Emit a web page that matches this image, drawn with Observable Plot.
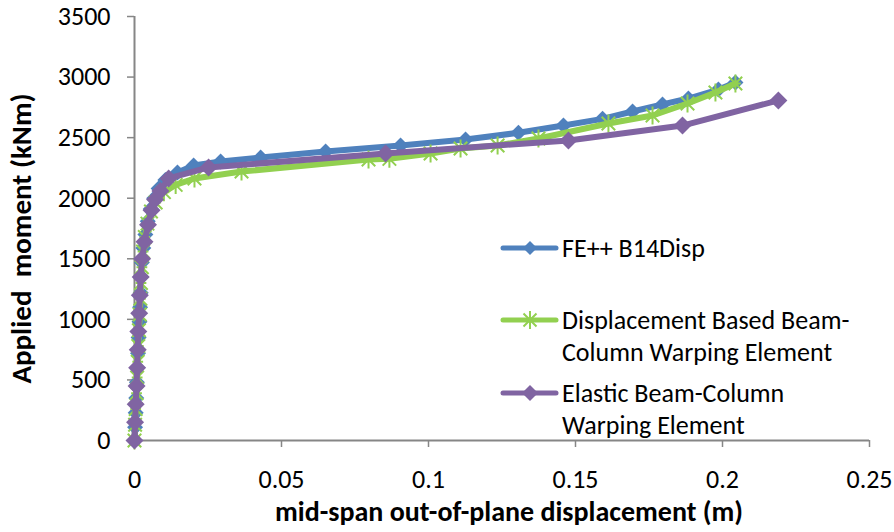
<!DOCTYPE html>
<html><head><meta charset="utf-8">
<script src="https://cdn.jsdelivr.net/npm/d3@7"></script>
<script src="https://cdn.jsdelivr.net/npm/@observablehq/plot@0.6"></script>
<style>
body{margin:0;background:#fff;}
#wrap{position:relative;width:894px;height:532px;font-family:Carlito,Calibri,Lato,sans-serif;}
.legtxt{position:absolute;font-size:26px;line-height:32px;color:#000;white-space:nowrap;}
.legsym{position:absolute;}
</style></head><body><div id="wrap"></div>
<script>
const seriesNames = ["FE++ B14Disp", "Displacement Based Beam-\nColumn Warping Element", "Elastic Beam-Column\nWarping Element"];
const seriesColors = ["#4F81BD", "#92D050", "#8064A2"];
const xTicks = [0, 0.05, 0.1, 0.15, 0.2, 0.25];
const yTicks = [0, 500, 1000, 1500, 2000, 2500, 3000, 3500];

const blueX = [0,0.0002,0.0004,0.0006,0.0008,0.0010,0.0012,0.0014,0.0017,0.0019,0.0021,0.0023,0.0025,0.0030,0.0037,0.0045,0.0055,0.0067,0.0082,0.0105,0.0146,0.0201,0.0293,0.0429,0.0650,0.0905,0.1126,0.1306,0.1459,0.1592,0.1694,0.1796,0.1884,0.1986,0.2044];
const blueM = [0,110,230,350,480,600,720,850,980,1100,1220,1350,1470,1590,1700,1810,1910,2000,2080,2150,2212,2270,2303,2336,2386,2435,2485,2540,2600,2655,2716,2774,2823,2897,2955];

const greenX = [0,0.0002,0.0004,0.0007,0.0009,0.0011,0.0013,0.0015,0.0018,0.0020,0.0022,0.0025,0.0029,0.0035,0.0044,0.0056,0.0072,0.0100,0.0140,0.0204,0.0364,0.0796,0.0867,0.1007,0.1109,0.1235,0.1374,0.1612,0.1762,0.1881,0.1976,0.2044];
const greenM = [0,130,260,390,520,650,780,910,1040,1170,1300,1430,1560,1680,1790,1890,1965,2050,2110,2163,2220,2320,2325,2369,2410,2435,2493,2617,2683,2782,2873,2947];

const purpleX = [0,0.0002,0.0004,0.0007,0.0009,0.0011,0.0013,0.0016,0.0018,0.0021,0.0026,0.0034,0.0046,0.0058,0.0070,0.0088,0.0116,0.0252,0.0854,0.1476,0.1864,0.2190];
const purpleM = [0,150,300,450,600,750,900,1050,1200,1350,1500,1640,1780,1900,1990,2060,2163,2254,2369,2477,2600,2807];

const toRows = (xs, ms) => xs.map((x, i) => ({x, m: ms[i]}));
const blue = toRows(blueX, blueM), green = toRows(greenX, greenM), purple = toRows(purpleX, purpleM);

const diamond = {draw(ctx, size) { const r = Math.sqrt(size / Math.PI); ctx.moveTo(0, -r); ctx.lineTo(r, 0); ctx.lineTo(0, r); ctx.lineTo(-r, 0); ctx.closePath(); }};
const asterisk = {draw(ctx, size) { const r = Math.sqrt(size / Math.PI); const d = r * 0.75;
  ctx.moveTo(0, -r); ctx.lineTo(0, r); ctx.moveTo(-d, -d); ctx.lineTo(d, d); ctx.moveTo(-d, d); ctx.lineTo(d, -d); ctx.moveTo(-r*0.6, 0); ctx.lineTo(r*0.6, 0); }};

const gray = "#868686";
const font = "Carlito, Calibri, Lato, sans-serif";
const chart = Plot.plot({
  width: 894, height: 532,
  marginLeft: 134, marginRight: 25, marginTop: 16, marginBottom: 92,
  style: {fontFamily: font, fontSize: "26px", color: "#000", background: "#fff"},
  x: {domain: [0, 0.25]},
  y: {domain: [0, 3500]},
  marks: [
    Plot.ruleX([0], {stroke: gray, strokeWidth: 2}),
    Plot.ruleY([0], {stroke: gray, strokeWidth: 2}),
    Plot.axisX({ticks: xTicks, tickSize: 7, tickPadding: 22, stroke: gray, strokeWidth: 1.5, fill: "#000", tickFormat: d => String(d),
      label: "mid-span out-of-plane displacement (m)", labelArrow: "none", labelAnchor: "center", labelOffset: 80}),
    Plot.axisY({ticks: yTicks, tickSize: 7, tickPadding: 17, stroke: gray, strokeWidth: 1.5, fill: "#000", tickFormat: d => String(d),
      label: "Applied  moment (kNm)", labelArrow: "none", labelAnchor: "center", labelOffset: 124}),
    Plot.line(blue, {x: "x", y: "m", stroke: seriesColors[0], strokeWidth: 6}),
    Plot.dot(blue, {x: "x", y: "m", symbol: diamond, r: 8, fill: seriesColors[0], stroke: "none"}),
    Plot.line(green, {x: "x", y: "m", stroke: seriesColors[1], strokeWidth: 6}),
    Plot.dot(green, {x: "x", y: "m", symbol: asterisk, r: 9, fill: "none", stroke: seriesColors[1], strokeWidth: 2}),
    Plot.line(purple, {x: "x", y: "m", stroke: seriesColors[2], strokeWidth: 6}),
    Plot.dot(purple, {x: "x", y: "m", symbol: diamond, r: 9, fill: seriesColors[2], stroke: "none"})
  ]
});
const wrap = document.getElementById("wrap");
wrap.appendChild(chart);
chart.querySelectorAll("g[aria-label='x-axis label'] text").forEach(t => {
  t.style.fontWeight = "bold"; t.style.fontSize = "28px"; t.setAttribute("dx", "7");
});
chart.querySelectorAll("g[aria-label='y-axis label'] text").forEach(t => {
  t.style.fontWeight = "bold"; t.style.fontSize = "29px"; t.style.whiteSpace = "pre"; t.setAttribute("dx", "-10");
});

// legend overlay
const legTop = [248, 320, 393];
const symPaths = [
  `<path d="M30,3L37,10L30,17L23,10Z" fill="${seriesColors[0]}"/>`,
  `<path d="M30,1V19M23.5,3.5L36.5,16.5M23.5,16.5L36.5,3.5" stroke="${seriesColors[1]}" stroke-width="2" fill="none"/>`,
  `<path d="M30,2L38,10L30,18L22,10Z" fill="${seriesColors[2]}"/>`
];
seriesNames.forEach((name, i) => {
  const s = document.createElement("div");
  s.className = "legsym";
  s.style.left = "500px"; s.style.top = (legTop[i] - 10) + "px";
  s.innerHTML = `<svg width="60" height="20"><line x1="3" x2="56" y1="10" y2="10" stroke="${seriesColors[i]}" stroke-width="5" stroke-linecap="round"/>${symPaths[i]}</svg>`;
  wrap.appendChild(s);
  const t = document.createElement("div");
  t.className = "legtxt";
  t.style.left = "562px"; t.style.top = (legTop[i] - 16) + "px";
  t.innerHTML = name.split("\n").join("<br>");
  wrap.appendChild(t);
});
</script></body></html>
